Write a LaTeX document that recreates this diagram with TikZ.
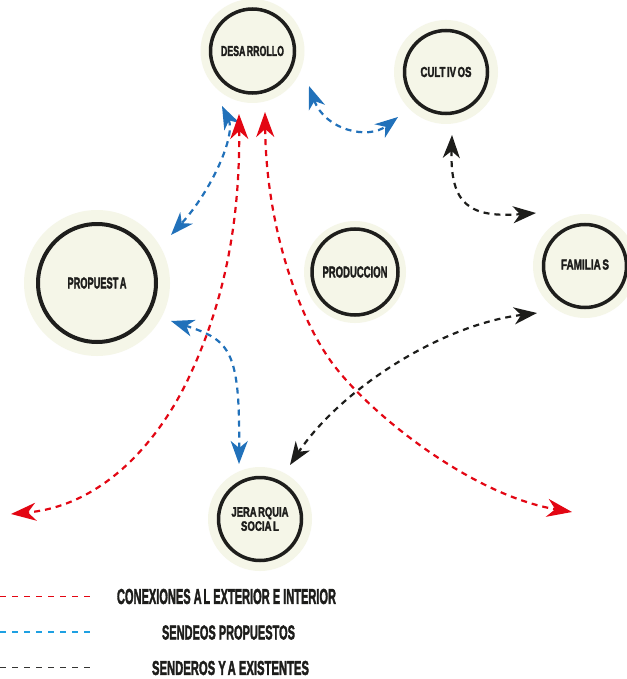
\documentclass[tikz,border=0pt]{standalone}
\usepackage{fontspec}
\setmainfont{Liberation Sans}
\newfontfamily\lblfont[FakeBold=2.5]{Liberation Sans Bold}
\usepackage{graphicx}
\usetikzlibrary{arrows.meta}
\definecolor{cream}{HTML}{F5F6E8}
\definecolor{ringc}{HTML}{1E1E1C}
\definecolor{redc}{HTML}{E30613}
\definecolor{bluec}{HTML}{2171BA}
\definecolor{bluel}{HTML}{1EA0E2}
\definecolor{blackc}{HTML}{1D1D1B}
\newcommand{\lbl}[3]{\resizebox{#1pt}{#2pt}{\lblfont\spaceskip=0.16em\relax #3}}
\newcommand{\leg}[3]{\resizebox{#1pt}{#2pt}{\lblfont #3}}
\newcommand{\tg}[1]{{\spaceskip=0.16em\relax #1}}
\begin{document}
\begin{tikzpicture}[x=1pt,y=-1pt,
  halo/.style={circle,fill=cream,inner sep=0pt,minimum size=#1},
  ringnode/.style={circle,draw=ringc,fill=cream,line width=3.5pt,inner sep=0pt,minimum size=#1,align=center,text=blackc},
  link/.style={line width=2.2pt,dash pattern=on 6pt off 5pt,
    {Stealth[length=23pt,width=17pt,inset=7pt]}-{Stealth[length=23pt,width=17pt,inset=7pt]}},
  redlink/.style={line width=2.2pt,dash pattern=on 6pt off 5pt,draw=redc,
    {Stealth[length=25pt,width=18pt,inset=8pt]}-{Stealth[length=25pt,width=18pt,inset=8pt]}},
  bluelink/.style={link,draw=bluec},
  blacklink/.style={link,draw=blackc},
  legline/.style={line width=1.8pt,dash pattern=on 6pt off 6pt},
  legtext/.style={inner sep=0pt,text=blackc}
]
\useasboundingbox (0,0) rectangle (626,679);
\fill[white] (0,0) rectangle (626,679);

% halos
\node[halo=104pt] (desH) at (252.5,51) {};
\node[halo=104pt] (culH) at (446,72) {};
\node[halo=146pt] (proH) at (97,283) {};
\node[halo=102pt] (prdH) at (355,272) {};
\node[halo=104pt] (famH) at (585,266) {};
\node[halo=104pt] (jerH) at (260,519) {};

% rings with labels
\node[ringnode=84pt] (des) at (252.5,51) {\lbl{63}{10}{DESA RROLLO}};
\node[ringnode=83pt] (cul) at (446,72) {\lbl{51}{10}{CULT IV OS}};
\node[ringnode=118pt,line width=4pt] (pro) at (97,283) {\lbl{59}{11}{PROPUEST A}};
\node[ringnode=86pt] (prd) at (355,272) {\lbl{65}{11}{PRODUCCION}};
\node[ringnode=83pt] (fam) at (585,266) {\raisebox{3pt}{\lbl{48}{10}{FAMILIA S}}};
\node[ringnode=83pt] (jer) at (260,519) {\lbl{57}{9.5}{JERA RQUIA}\\[1pt]\lbl{38}{9.5}{SOCIA L}};

% connector end points
\coordinate (b1a) at (222,106);
\coordinate (b1b) at (171,235);
\coordinate (b2a) at (309,86);
\coordinate (b2b) at (398,117);
\coordinate (b3a) at (171,321);
\coordinate (b3b) at (239,464);
\coordinate (k1a) at (452,135);
\coordinate (k1b) at (536,213);
\coordinate (k2a) at (537,313);
\coordinate (k2b) at (290,465);
\coordinate (r1a) at (239,114);
\coordinate (r1m) at (190,375);
\coordinate (r1b) at (11,514);
\coordinate (r2a) at (265,112);
\coordinate (r2m) at (330,360);
\coordinate (r2b) at (572,512);

% blue: proposed paths
\draw[bluelink] (b1a) .. controls (236,135) and (212,190) .. (b1b);
\draw[bluelink] (b2a) .. controls (325,130) and (368,140) .. (b2b);
\draw[bluelink] (b3a) .. controls (230,340) and (240,350) .. (b3b);

% black: existing paths
\draw[blacklink] (k1a) .. controls (450,205) and (470,218) .. (k1b);
\draw[blacklink] (k2a) .. controls (440,325) and (340,390) .. (k2b);

% red: connections
\draw[redlink] (r1a) .. controls (240,220) and (225,300) .. (r1m)
  .. controls (165,430) and (110,505) .. (r1b);
\draw[redlink] (r2a) .. controls (266,220) and (295,310) .. (r2m)
  .. controls (365,410) and (470,495) .. (r2b);

% legend
\coordinate (l1a) at (0,596.5);  \coordinate (l1b) at (90,596.5);
\coordinate (l2a) at (0,632);    \coordinate (l2b) at (90,632);
\coordinate (l3a) at (0,667.5);  \coordinate (l3b) at (90,667.5);
\draw[legline,draw=redc] (l1a) -- (l1b);
\draw[legline,draw=bluel] (l2a) -- (l2b);
\draw[legline,draw=blackc!90] (l3a) -- (l3b);
\node[legtext] (t1) at (226.5,596.5) {\leg{219}{15}{CONEXIONES \tg{A L} EXTERIOR E INTERIOR}};
\node[legtext] (t2) at (228.5,632.5) {\leg{133}{14}{SENDEOS PROPUESTOS}};
\node[legtext] (t3) at (230.5,668) {\leg{157}{14}{SENDEROS \tg{Y A} EXISTENTES}};
\end{tikzpicture}
\end{document}
